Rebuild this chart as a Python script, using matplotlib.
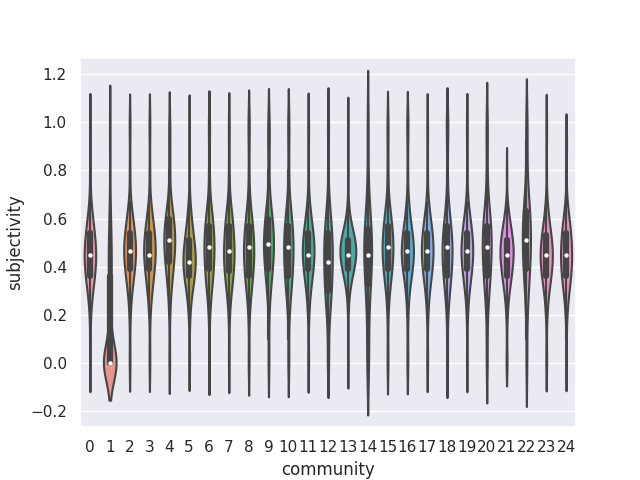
import numpy as np
import pandas as pd
import matplotlib
matplotlib.use("Agg")
import matplotlib.pyplot as plt
import seaborn as sns

# subjectivity values (grid) and how many posts of each community sit at each value
values = [0.0, 0.1, 0.2, 0.25, 0.3, 0.33, 0.36, 0.39, 0.42, 0.45,
          0.48, 0.51, 0.54, 0.57, 0.6, 0.63, 0.67, 0.8, 0.92, 1.0]

counts = {
    0:  [5, 2, 4, 6, 10, 12, 14, 16, 19, 20, 18, 16, 14, 11, 8, 6, 5, 4, 2, 5],
    1:  [260, 20, 16, 10, 10, 10, 10, 12, 10, 12, 10, 10, 8, 6, 6, 4, 6, 6, 4, 10],
    2:  [5, 2, 4, 5, 8, 10, 12, 15, 18, 21, 20, 18, 16, 13, 10, 7, 5, 4, 2, 5],
    3:  [5, 2, 4, 6, 9, 11, 12, 14, 17, 21, 20, 17, 16, 13, 10, 7, 5, 4, 2, 5],
    4:  [5, 2, 3, 4, 6, 7, 9, 11, 14, 16, 18, 19, 18, 16, 14, 11, 9, 7, 6, 5],
    5:  [5, 2, 5, 7, 11, 13, 17, 19, 22, 21, 18, 14, 12, 9, 7, 5, 4, 3, 2, 4],
    6:  [5, 2, 4, 6, 9, 11, 12, 13, 15, 16, 17, 16, 15, 14, 12, 9, 7, 6, 4, 7],
    7:  [5, 2, 4, 6, 9, 11, 13, 15, 17, 18, 17, 15, 14, 13, 12, 9, 7, 5, 3, 5],
    8:  [6, 2, 4, 6, 9, 11, 13, 14, 16, 17, 18, 16, 15, 12, 10, 8, 6, 5, 4, 8],
    9:  [6, 3, 3, 4, 6, 8, 10, 12, 14, 16, 18, 16, 16, 14, 13, 10, 8, 7, 8, 8],
    10: [7, 3, 5, 7, 10, 11, 12, 13, 14, 15, 16, 15, 14, 13, 11, 9, 7, 6, 4, 8],
    11: [6, 2, 4, 5, 8, 10, 12, 15, 18, 21, 20, 18, 16, 12, 9, 7, 5, 4, 3, 5],
    12: [9, 5, 10, 14, 13, 12, 12, 12, 14, 14, 14, 13, 12, 11, 9, 7, 5, 4, 3, 7],
    13: [1, 0, 1, 1, 2, 3, 5, 7, 9, 11, 11, 9, 7, 4, 2, 1, 1, 1, 0, 1],
    14: [4, 2, 1, 2, 2, 2, 2, 3, 3, 4, 4, 3, 3, 3, 2, 2, 1, 1, 1, 2],
    15: [6, 3, 3, 4, 7, 9, 11, 14, 16, 18, 19, 17, 16, 14, 11, 9, 7, 6, 4, 6],
    16: [6, 3, 3, 4, 6, 8, 11, 15, 20, 24, 21, 19, 15, 11, 8, 6, 5, 4, 3, 8],
    17: [6, 2, 4, 5, 8, 10, 12, 15, 18, 20, 20, 18, 16, 13, 10, 7, 5, 4, 3, 4],
    18: [7, 3, 4, 6, 9, 11, 13, 13, 15, 18, 18, 16, 14, 12, 9, 7, 5, 5, 4, 11],
    19: [5, 2, 4, 5, 8, 10, 12, 15, 18, 21, 19, 18, 16, 13, 10, 7, 5, 4, 3, 5],
    20: [4, 2, 2, 3, 4, 5, 6, 6, 7, 7, 6, 9, 8, 7, 6, 5, 4, 3, 3, 4],
    21: [5, 2, 4, 6, 9, 11, 13, 15, 18, 21, 20, 17, 15, 11, 8, 5, 3, 2, 0, 0],
    22: [3, 1, 2, 2, 3, 3, 3, 4, 5, 5, 5, 6, 5, 5, 5, 6, 6, 4, 2, 4],
    23: [5, 2, 4, 6, 9, 11, 14, 16, 19, 21, 19, 16, 13, 10, 7, 5, 4, 3, 2, 4],
    24: [5, 2, 5, 7, 10, 12, 14, 15, 17, 18, 16, 15, 14, 12, 9, 6, 4, 3, 6, 0],
}

rows = []
for comm, cnt in counts.items():
    for v in np.repeat(values, cnt):
        rows.append((str(comm), v))
df = pd.DataFrame(rows, columns=["community", "subjectivity"])

sns.set_theme()
fig, ax = plt.subplots(figsize=(6.4, 4.8), dpi=100)
sns.violinplot(data=df, x="community", y="subjectivity", hue="community",
               palette=sns.husl_palette(len(counts), l=.7), legend=False,
               common_norm=True, linewidth=1.5,
               inner_kws=dict(box_width=4.5, whis_width=1.5, marker="o",
                              markersize=3.2, markeredgewidth=0),
               ax=ax)
ax.set_ylim(-0.266, 1.268)
fig.savefig("out.png")
